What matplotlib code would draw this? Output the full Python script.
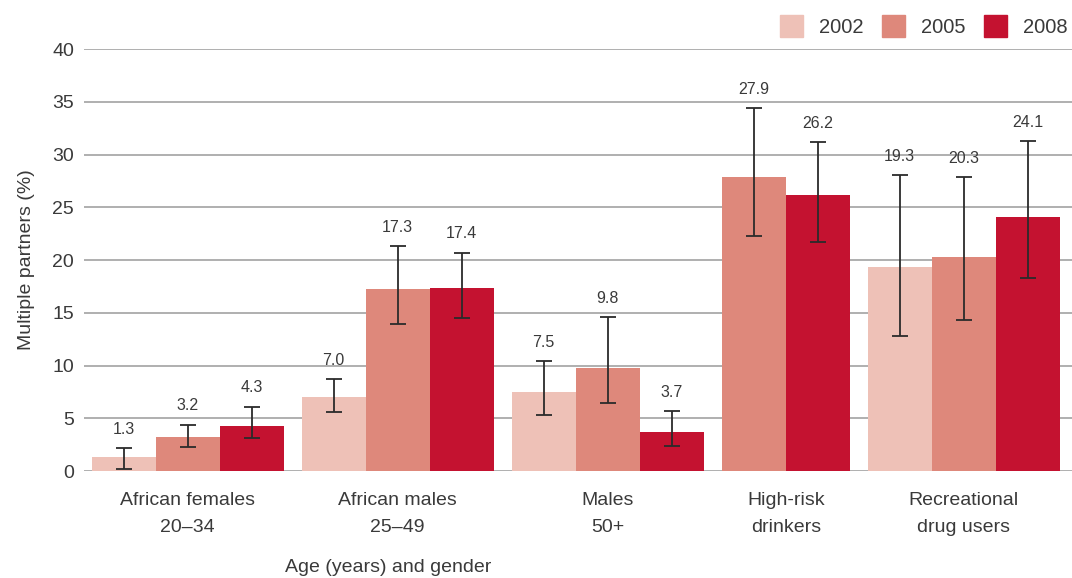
import matplotlib
matplotlib.use("Agg")
import matplotlib.pyplot as plt
import matplotlib.patches as mpatches

plt.rcParams["font.family"] = ["Liberation Sans", "DejaVu Sans"]

# Daten
categories = ["African females\n20–34", "African males\n25–49", "Males\n50+",
              "High-risk\ndrinkers", "Recreational\ndrug users"]
years = ["2002", "2005", "2008"]
values_2002 = [1.3, 7.0, 7.5, None, 19.3]
values_2005 = [3.2, 17.3, 9.8, 27.9, 20.3]
values_2008 = [4.3, 17.4, 3.7, 26.2, 24.1]
lower_2002 = [0.2, 5.6, 5.3, None, 12.8]
upper_2002 = [2.15, 8.7, 10.4, None, 28.05]
lower_2005 = [2.3, 13.9, 6.5, 22.3, 14.3]
upper_2005 = [4.4, 21.3, 14.6, 34.4, 27.9]
lower_2008 = [3.1, 14.5, 2.4, 21.7, 18.3]
upper_2008 = [6.1, 20.7, 5.65, 31.2, 31.3]
y_ticks = [0, 5, 10, 15, 20, 25, 30, 35, 40]

colors = ["#EEC1B7", "#DE887B", "#C41230"]
text_color = "#3a3a3a"
grid_color = "#9a9a9a"

series = [
    (values_2002, lower_2002, upper_2002),
    (values_2005, lower_2005, upper_2005),
    (values_2008, lower_2008, upper_2008),
]

fig = plt.figure(figsize=(10.72, 5.78), dpi=100)
ax = fig.add_axes([0.078, 0.185, 0.922, 0.73])

gap = 0.28
cursor = 0.0
tick_pos = []
for ci in range(len(categories)):
    centers = []
    for si, (vals, lows, highs) in enumerate(series):
        v = vals[ci]
        if v is None:
            continue  # keine Daten für dieses Jahr
        x = cursor + 0.5
        ax.bar(x, v, width=1.0, color=colors[si], zorder=2)
        ax.errorbar(x, v, yerr=[[v - lows[ci]], [highs[ci] - v]], fmt="none",
                    ecolor="#2b2b2b", elinewidth=1.3, capsize=6, capthick=1.3,
                    zorder=3)
        ax.annotate(f"{v:.1f}", (x, highs[ci]), xytext=(0, 13.5),
                    textcoords="offset points", ha="center", va="center",
                    fontsize=11.5, color=text_color, zorder=4)
        centers.append(x)
        cursor += 1.0
    tick_pos.append(sum(centers) / len(centers))
    cursor += gap

ax.set_xlim(-0.125, cursor - gap + 0.19)
ax.set_ylim(0, 40)
ax.set_yticks(y_ticks)
ax.set_xticks(tick_pos)
ax.set_xticklabels(categories, linespacing=1.75)
ax.tick_params(axis="both", length=0, labelsize=14, colors=text_color)
ax.tick_params(axis="y", pad=7)
ax.tick_params(axis="x", pad=15)
ax.grid(axis="y", color=grid_color, linewidth=1.1, zorder=0)
ax.set_axisbelow(True)
for s in ax.spines.values():
    s.set_visible(False)

ax.set_ylabel("Multiple partners (%)", fontsize=14, color=text_color, labelpad=12)
fig.text(0.266, 0.019, "Age (years) and gender", fontsize=14, color=text_color,
         ha="left", va="center")

handles = [mpatches.Patch(color=c, label=y) for c, y in zip(colors, years)]
fig.legend(handles=handles, loc="center right", bbox_to_anchor=(1.013, 0.955),
           ncol=3, frameon=False, fontsize=14.5, handlelength=1.15,
           handleheight=1.35, handletextpad=0.8, columnspacing=0.9,
           labelcolor=text_color)

fig.savefig("out.png", dpi=100)
